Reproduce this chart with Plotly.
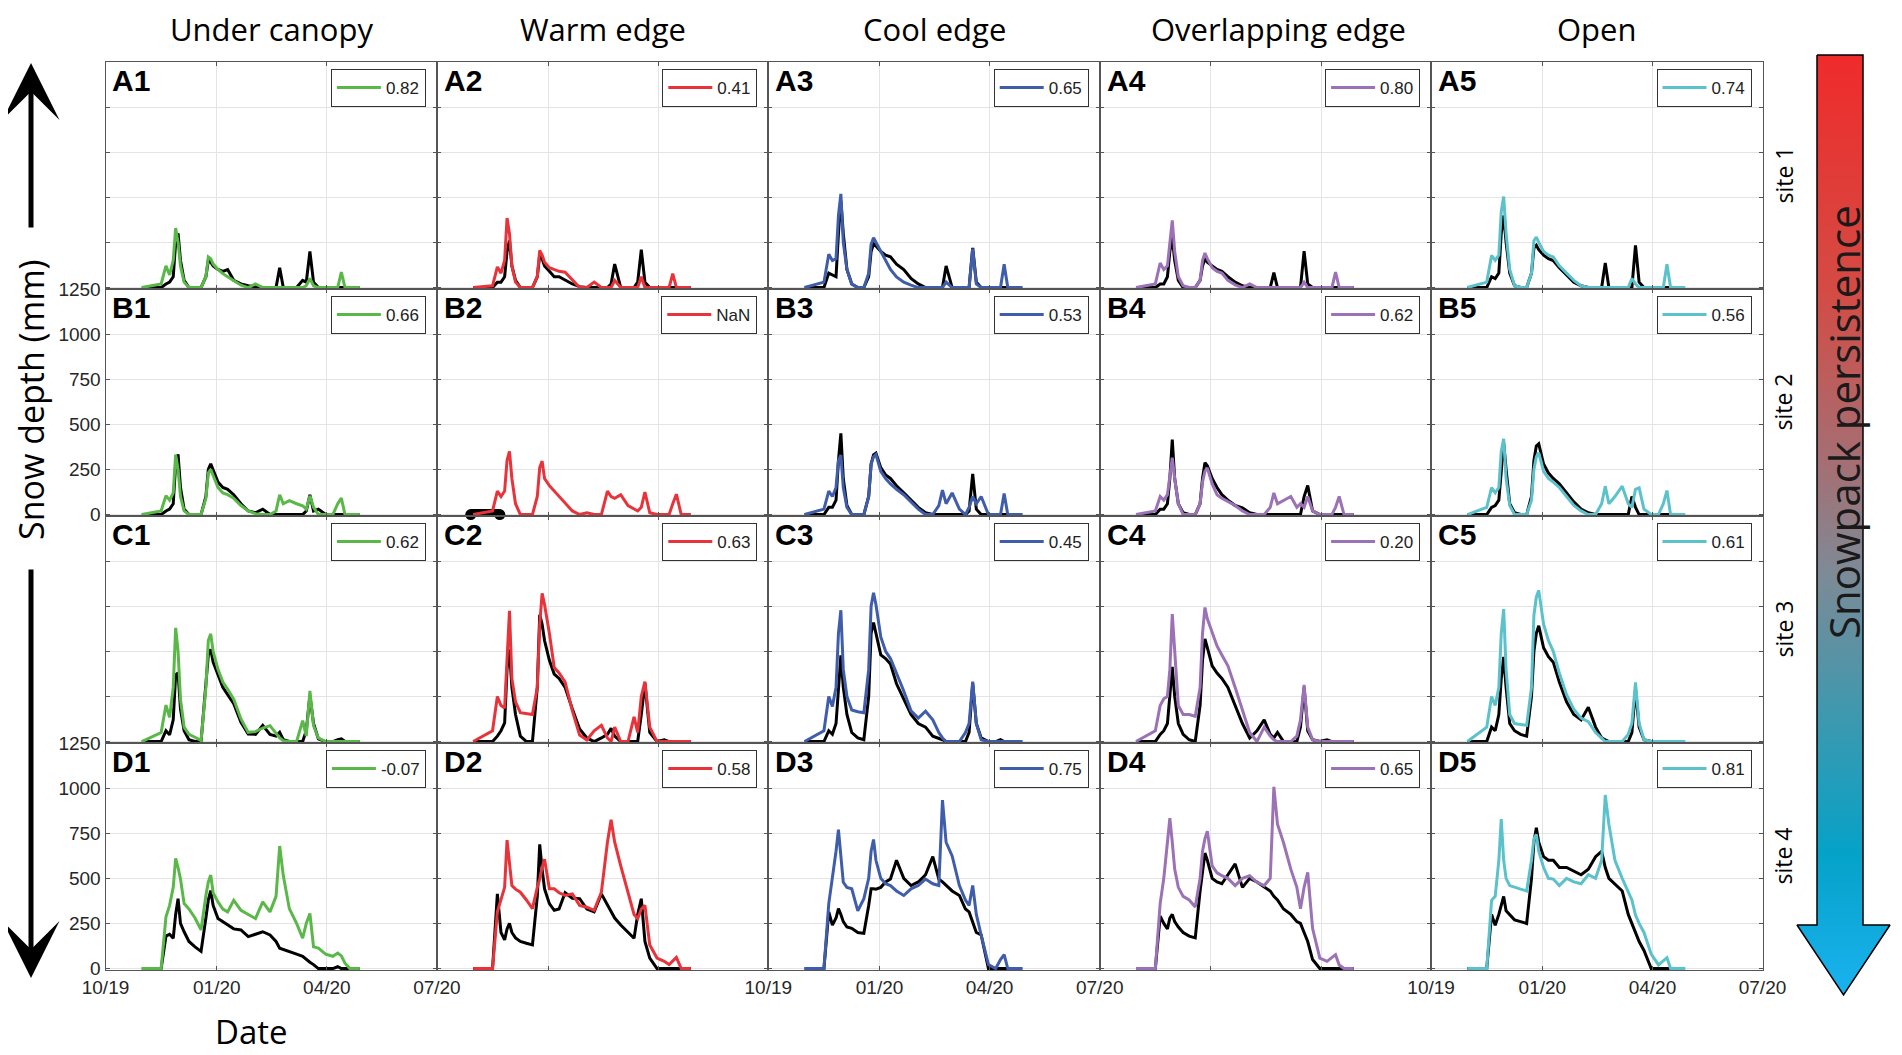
import pandas as pd
import plotly.graph_objects as go

# sample days, counted from 1 Oct 2019
day_offset = [30, 46, 50, 53, 56, 58, 60, 62, 65, 69,
              74, 79, 83, 85, 87, 89, 93, 97, 101, 106,
              112, 118, 124, 130, 136, 141, 144, 147, 152, 158,
              163, 166, 169, 172, 176, 182, 188, 192, 195, 198,
              202, 210]

column_titles = ["Under canopy", "Warm edge", "Cool edge", "Overlapping edge", "Open"]
row_letters = ["A", "B", "C", "D"]
site_labels = ["site 1", "site 2", "site 3", "site 4"]
line_colors = ["#59b848", "#e8333a", "#3f5daa", "#9b72b5", "#5bc2cc"]
tick_dates = ["2019-10-01", "2020-01-01", "2020-04-01", "2020-07-01"]
tick_labels = ["10/19", "01/20", "04/20", "07/20"]
depth_ticks = [0, 250, 500, 750, 1000, 1250]

# correlation shown in each legend
r_A = ["0.82", "0.41", "0.65", "0.80", "0.74"]
r_B = ["0.66", "NaN", "0.53", "0.62", "0.56"]
r_C = ["0.62", "0.63", "0.45", "0.20", "0.61"]
r_D = ["-0.07", "0.58", "0.75", "0.65", "0.81"]

# observed snow depth (mm), black lines
obs_A = [
    [0, 0, 20, 30, 60, 250, 300, 150, 40, 0, 0, 0, 60, 150, 140, 120, 100, 90, 100, 40,
     20, 10, 5, 0, 0, 0, 110, 0, 0, 0, 40, 30, 200, 30, 0, 0, 0, 0, 0, 0, 0, 0],
    [0, 0, 30, 30, 60, 200, 260, 120, 40, 0, 0, 0, 60, 180, 160, 120, 90, 60, 60, 40,
     20, 5, 0, 0, 0, 0, 20, 130, 0, 0, 0, 30, 210, 30, 0, 0, 0, 0, 0, 0, 0, 0],
    [0, 0, 80, 70, 60, 300, 482, 300, 100, 20, 0, 0, 60, 200, 243, 230, 200, 180, 170, 130,
     100, 50, 20, 0, 0, 0, 0, 120, 0, 0, 0, 0, 220, 30, 0, 0, 0, 0, 0, 0, 0, 0],
    [0, 0, 20, 20, 60, 200, 280, 150, 40, 0, 0, 0, 40, 120, 160, 140, 120, 100, 90, 60,
     30, 10, 0, 0, 0, 0, 83, 0, 0, 0, 0, 0, 202, 20, 0, 0, 0, 0, 0, 0, 0, 0],
    [0, 0, 60, 50, 80, 300, 399, 250, 80, 10, 0, 0, 80, 220, 234, 210, 180, 160, 150, 110,
     70, 30, 10, 0, 0, 0, 136, 0, 0, 0, 0, 0, 234, 30, 0, 0, 0, 0, 0, 0, 0, 0],
]
obs_B = [
    [0, 0, 20, 30, 60, 280, 333, 150, 30, 0, 0, 0, 100, 250, 281, 250, 180, 150, 140, 110,
     60, 20, 10, 30, 0, 0, 0, 0, 0, 0, 0, 20, 110, 20, 30, 0, 0, 0, 0, 0, 0, 0],
    [None] * len(day_offset),
    [0, 0, 40, 40, 80, 300, 450, 200, 50, 0, 0, 0, 100, 280, 330, 340, 260, 220, 200, 160,
     120, 80, 40, 10, 0, 0, 0, 0, 0, 0, 0, 20, 226, 30, 0, 0, 0, 0, 0, 0, 0, 0],
    [0, 0, 30, 30, 60, 200, 416, 200, 60, 10, 0, 0, 60, 200, 287, 270, 200, 150, 110, 80,
     50, 37, 10, 0, 0, 0, 0, 0, 0, 0, 0, 0, 100, 161, 20, 0, 0, 0, 0, 0, 0, 0],
    [0, 0, 40, 50, 80, 250, 398, 250, 60, 10, 0, 0, 100, 300, 380, 392, 280, 230, 200, 170,
     120, 70, 30, 10, 0, 0, 0, 0, 0, 0, 0, 100, 40, 0, 0, 0, 0, 0, 0, 0, 0, 0],
]
obs_C = [
    [0, 0, 60, 37, 120, 370, 380, 180, 60, 10, 0, 0, 320, 480, 511, 440, 370, 300, 260, 210,
     107, 42, 40, 90, 40, 30, 51, 10, 0, 0, 0, 60, 254, 100, 15, 0, 0, 10, 15, 0, 0, 0],
    [0, 0, 30, 60, 104, 400, 511, 300, 150, 30, 0, 0, 300, 703, 650, 560, 450, 374, 350, 300,
     180, 70, 20, 0, 20, 40, 73, 30, 0, 0, 0, 0, 150, 323, 50, 0, 10, 0, 0, 0, 0, 0],
    [0, 0, 60, 40, 100, 300, 478, 300, 150, 50, 20, 10, 250, 600, 660, 600, 480, 460, 430, 320,
     230, 150, 100, 80, 30, 20, 10, 0, 0, 0, 0, 50, 323, 100, 20, 0, 0, 10, 0, 0, 0, 0],
    [0, 0, 40, 60, 100, 250, 414, 250, 100, 40, 10, 0, 200, 450, 569, 520, 420, 380, 350, 300,
     200, 100, 20, 60, 120, 40, 20, 50, 0, 0, 0, 80, 300, 60, 10, 0, 10, 0, 0, 0, 0, 0],
    [0, 0, 80, 60, 150, 350, 469, 300, 100, 60, 40, 30, 250, 500, 600, 642, 520, 470, 440, 330,
     220, 150, 120, 190, 80, 20, 10, 0, 0, 0, 0, 50, 290, 80, 10, 0, 0, 0, 0, 0, 0, 0],
]
obs_D = [
    [0, 0, 180, 190, 168, 300, 387, 250, 204, 150, 120, 95, 280, 380, 432, 350, 277, 260, 241, 220,
     214, 177, 190, 204, 186, 150, 113, 105, 95, 80, 68, 50, 35, 22, 0, 0, 0, 10, 0, 0, 0, 0],
    [0, 0, 414, 200, 159, 220, 250, 200, 170, 150, 140, 131, 400, 688, 550, 442, 360, 323, 330, 420,
     390, 387, 330, 314, 414, 350, 314, 280, 241, 200, 168, 300, 387, 150, 58, 0, 0, 0, 0, 0, 0, 0],
    [0, 0, 314, 241, 280, 332, 300, 260, 230, 223, 200, 195, 350, 442, 442, 440, 450, 480, 496, 600,
     500, 460, 480, 520, 620, 496, 480, 460, 430, 405, 330, 314, 260, 200, 186, 0, 0, 0, 0, 0, 0, 0],
    [0, 0, 290, 250, 220, 280, 300, 260, 230, 200, 180, 170, 430, 550, 640, 600, 500, 480, 470, 520,
     580, 450, 500, 480, 450, 430, 400, 380, 330, 300, 260, 250, 200, 150, 50, 0, 0, 0, 0, 0, 0, 0],
    [0, 0, 300, 240, 300, 350, 400, 320, 300, 270, 260, 250, 500, 700, 780, 700, 620, 600, 600, 560,
     560, 540, 520, 550, 620, 650, 560, 500, 470, 430, 300, 250, 200, 150, 100, 0, 0, 0, 0, 0, 0, 0],
]

# modelled snow depth (mm), coloured lines
mod_A = [
    [0, 20, 120, 70, 150, 330, 250, 120, 30, 0, 0, 0, 60, 170, 160, 130, 100, 77, 60, 40,
     13, 0, 20, 0, 0, 0, 0, 0, 0, 0, 0, 10, 50, 10, 0, 0, 0, 0, 86, 0, 0, 0],
    [0, 10, 114, 80, 150, 385, 300, 120, 30, 0, 0, 0, 60, 206, 180, 140, 110, 100, 90, 85,
     40, 0, 0, 30, 0, 0, 0, 40, 0, 0, 0, 0, 60, 0, 0, 0, 0, 0, 77, 0, 0, 0],
    [0, 30, 184, 150, 160, 400, 519, 250, 100, 20, 0, 0, 80, 240, 276, 250, 200, 150, 100, 59,
     30, 13, 0, 0, 0, 0, 0, 30, 0, 0, 0, 0, 215, 20, 0, 0, 0, 0, 129, 0, 0, 0],
    [0, 20, 136, 100, 120, 250, 372, 200, 60, 10, 0, 0, 40, 150, 191, 160, 110, 90, 80, 40,
     15, 0, 20, 0, 0, 0, 0, 0, 0, 0, 0, 0, 30, 0, 0, 0, 0, 0, 86, 0, 0, 0],
    [0, 30, 178, 150, 180, 420, 504, 300, 100, 10, 0, 0, 80, 260, 280, 250, 200, 180, 170, 120,
     80, 40, 10, 0, 0, 0, 0, 0, 0, 0, 0, 50, 20, 0, 0, 0, 0, 0, 129, 0, 0, 0],
]
mod_B = [
    [0, 20, 105, 80, 120, 333, 250, 100, 20, 0, 0, 0, 90, 230, 250, 220, 150, 120, 110, 90,
     50, 20, 5, 0, 0, 20, 110, 60, 77, 60, 49, 30, 104, 40, 0, 0, 0, 60, 91, 0, 0, 0],
    [0, 20, 130, 100, 130, 300, 350, 200, 60, 0, 0, 0, 100, 260, 296, 200, 160, 131, 100, 60,
     20, 0, 10, 0, 0, 130, 100, 90, 110, 50, 30, 20, 40, 124, 10, 0, 0, 0, 60, 113, 0, 0],
    [0, 30, 130, 100, 150, 300, 330, 150, 40, 0, 0, 0, 100, 280, 320, 333, 240, 200, 170, 140,
     110, 70, 30, 0, 0, 50, 135, 60, 120, 30, 0, 40, 100, 60, 100, 0, 0, 0, 117, 0, 0, 0],
    [0, 20, 100, 80, 110, 200, 315, 200, 60, 0, 0, 0, 60, 180, 240, 259, 170, 110, 90, 70,
     50, 20, 0, 0, 0, 40, 120, 60, 80, 100, 40, 60, 40, 100, 20, 0, 0, 0, 40, 100, 0, 0],
    [0, 40, 150, 120, 150, 350, 420, 200, 50, 0, 0, 0, 80, 250, 320, 342, 240, 200, 180, 150,
     100, 50, 20, 0, 0, 60, 157, 60, 100, 157, 60, 40, 140, 148, 30, 0, 0, 60, 133, 0, 0, 0],
]
mod_C = [
    [0, 50, 202, 134, 300, 630, 500, 235, 80, 40, 24, 5, 300, 560, 597, 500, 400, 330, 290, 235,
     125, 51, 55, 75, 88, 42, 20, 5, 0, 0, 116, 30, 281, 88, 20, 0, 0, 0, 0, 0, 0, 0],
    [0, 60, 250, 200, 186, 500, 724, 350, 220, 160, 155, 150, 300, 650, 821, 760, 600, 410, 380, 330,
     170, 36, 9, 60, 90, 20, 0, 80, 0, 0, 137, 50, 250, 332, 80, 0, 0, 0, 0, 0, 0, 0],
    [0, 60, 250, 195, 300, 600, 728, 400, 250, 175, 165, 160, 400, 750, 825, 760, 580, 500, 460, 380,
     280, 170, 130, 168, 120, 50, 20, 0, 0, 0, 50, 100, 332, 100, 10, 0, 0, 0, 0, 0, 0, 0],
    [0, 60, 200, 237, 250, 400, 706, 500, 200, 150, 150, 140, 300, 600, 743, 680, 600, 530, 480, 420,
     300, 180, 50, 0, 80, 30, 10, 0, 0, 0, 30, 120, 314, 80, 10, 0, 0, 0, 0, 0, 0, 0],
    [0, 80, 250, 200, 300, 600, 734, 400, 150, 100, 95, 90, 300, 700, 800, 838, 650, 560, 500, 380,
     260, 180, 130, 110, 50, 20, 0, 0, 0, 0, 40, 100, 328, 100, 10, 0, 0, 0, 0, 0, 0, 0],
]
mod_D = [
    [0, 0, 287, 350, 450, 610, 560, 496, 360, 330, 280, 214, 405, 480, 518, 420, 369, 330, 314, 378,
     323, 300, 277, 369, 314, 400, 679, 515, 332, 250, 168, 250, 305, 120, 113, 80, 68, 86, 70, 30, 0, 0],
    [0, 0, 314, 380, 450, 712, 600, 460, 440, 423, 380, 332, 450, 496, 560, 606, 442, 442, 420, 405,
     414, 350, 340, 323, 423, 700, 825, 700, 569, 423, 300, 277, 330, 350, 131, 58, 40, 22, 40, 62, 0, 0],
    [0, 0, 360, 500, 650, 770, 600, 478, 450, 442, 320, 387, 500, 650, 715, 600, 500, 470, 460, 430,
     405, 442, 460, 496, 470, 460, 934, 700, 624, 460, 380, 350, 460, 300, 186, 22, 0, 50, 77, 0, 0, 0],
    [0, 0, 360, 500, 700, 834, 700, 551, 450, 400, 380, 341, 500, 650, 720, 761, 569, 530, 515, 500,
     460, 500, 515, 478, 460, 500, 1007, 800, 697, 551, 450, 332, 450, 533, 223, 58, 40, 60, 77, 20, 0, 0],
    [0, 0, 378, 400, 600, 828, 600, 500, 460, 450, 440, 430, 600, 720, 743, 650, 560, 500, 496, 460,
     500, 480, 470, 520, 500, 600, 962, 800, 600, 500, 420, 380, 296, 250, 200, 80, 20, 40, 60, 0, 0, 0],
]

# B2: sensor stub with no usable record
b2_stub_days = [28, 52]
b2_stub_depth = [0, 0]

obs_rows = [obs_A, obs_B, obs_C, obs_D]
mod_rows = [mod_A, mod_B, mod_C, mod_D]
r_rows = [r_A, r_B, r_C, r_D]

start = pd.Timestamp("2019-10-01")
dates = start + pd.to_timedelta(day_offset, unit="D")

# page geometry in screen pixels; the page body adds an 8 px margin
W, H = 1902, 1055
PAGE_PAD = 8
px_left, px_right = 105.5, 1762.5
px_top, px_bottom = 62, 970
col_w = (px_right - px_left) / 5
row_h = (px_bottom - px_top) / 4

TICK_FONT = dict(family="Liberation Sans", size=19, color="#262626")
LABEL_FONT = "Open Sans"


def fx(p):
    return (p - PAGE_PAD) / W


def fy(p):
    return 1 - (p - PAGE_PAD) / H


def xdom(c):
    return [fx(px_left + c * col_w), fx(px_left + (c + 1) * col_w)]


def ydom(r):
    top = px_top + r * row_h
    return [fy(top + row_h), fy(top)]


fig = go.Figure()
layout = {}
annotations = []

for r in range(4):
    for c in range(5):
        k = r * 5 + c + 1
        sfx = "" if k == 1 else str(k)
        xa, ya = "x" + sfx, "y" + sfx
        leg = "legend" + sfx

        if r == 1 and c == 1:
            fig.add_trace(go.Scatter(
                x=start + pd.to_timedelta(b2_stub_days, unit="D"), y=b2_stub_depth,
                mode="lines+markers", line=dict(color="black", width=11),
                marker=dict(color="black", size=11), cliponaxis=False,
                xaxis=xa, yaxis=ya, showlegend=False, hoverinfo="skip"))

        fig.add_trace(go.Scatter(
            x=dates, y=obs_rows[r][c], mode="lines",
            line=dict(color="black", width=3),
            xaxis=xa, yaxis=ya, showlegend=False))
        fig.add_trace(go.Scatter(
            x=dates, y=mod_rows[r][c], mode="lines",
            line=dict(color=line_colors[c], width=3),
            name=r_rows[r][c], legend=leg, xaxis=xa, yaxis=ya))

        layout["xaxis" + sfx] = dict(
            domain=xdom(c), anchor=ya, type="date",
            range=["2019-10-01", "2020-07-01"],
            tickvals=tick_dates, ticktext=tick_labels,
            showticklabels=(r == 3 and c % 2 == 0), tickfont=TICK_FONT,
            showgrid=True, gridcolor="#e4e4e4", gridwidth=1,
            showline=True, linecolor="#555555", linewidth=1, mirror="ticks",
            ticks="inside", ticklen=4, tickcolor="#555555", zeroline=False)
        layout["yaxis" + sfx] = dict(
            domain=ydom(r), anchor=xa, range=[-8, 1250],
            tickvals=depth_ticks,
            showticklabels=(c == 0 and r % 2 == 1), tickfont=TICK_FONT,
            showgrid=True, gridcolor="#e4e4e4", gridwidth=1,
            showline=True, linecolor="#555555", linewidth=1, mirror="ticks",
            ticks="inside", ticklen=4, tickcolor="#555555", zeroline=False)
        layout[leg] = dict(
            x=fx(px_left + (c + 1) * col_w - 11),
            y=fy(px_top + r * row_h + 7),
            xanchor="right", yanchor="top",
            bgcolor="white", bordercolor="#333333", borderwidth=1,
            font=dict(family="Liberation Sans", size=17, color="#222222"),
            itemwidth=44)

        annotations.append(dict(
            text="<b>%s%d</b>" % (row_letters[r], c + 1),
            xref=xa + " domain", yref=ya + " domain", x=0.015, y=1.0,
            xanchor="left", yanchor="top", showarrow=False,
            font=dict(family="Liberation Sans", size=30, color="black")))

# column titles
for c, title in enumerate(column_titles):
    cx = (xdom(c)[0] + xdom(c)[1]) / 2 + (0.007 if c == 3 else 0)
    annotations.append(dict(
        text=title, xref="paper", yref="paper", x=cx, y=fy(29),
        xanchor="center", yanchor="middle", showarrow=False,
        font=dict(family=LABEL_FONT, size=31, color="black")))

# site labels
for r, site in enumerate(site_labels):
    annotations.append(dict(
        text=site, xref="paper", yref="paper", x=fx(1783), y=sum(ydom(r)) / 2,
        xanchor="center", yanchor="middle", textangle=-90, showarrow=False,
        font=dict(family=LABEL_FONT, size=23, color="black")))

annotations += [
    dict(text="Snow depth (mm)", xref="paper", yref="paper", x=fx(31), y=fy(400),
         xanchor="center", yanchor="middle", textangle=-90, showarrow=False,
         font=dict(family=LABEL_FONT, size=34, color="black")),
    dict(text="Date", xref="paper", yref="paper", x=fx(251), y=fy(1031),
         xanchor="center", yanchor="middle", showarrow=False,
         font=dict(family=LABEL_FONT, size=33, color="black")),
    dict(text="Snowpack persistence", xref="paper", yref="paper", x=fx(1843), y=fy(422),
         xanchor="center", yanchor="middle", textangle=-90, showarrow=False,
         font=dict(family=LABEL_FONT, size=42, color="#1a1a1a")),
    # vertical arrows beside the depth label
    dict(text="", xref="paper", yref="paper", x=fx(31), y=fy(63),
         ax=0, ay=166, showarrow=True, arrowhead=3, arrowsize=1.9, arrowwidth=5,
         arrowcolor="black"),
    dict(text="", xref="paper", yref="paper", x=fx(31), y=fy(978),
         ax=0, ay=-410, showarrow=True, arrowhead=3, arrowsize=1.9, arrowwidth=5,
         arrowcolor="black"),
]

# gradient arrow on the right, drawn on its own hidden axes in page pixels
arrow_x = [1817, 1863, 1863, 1890, 1843.5, 1797, 1817, 1817]
arrow_y = [55, 55, 925, 925, 995, 925, 925, 55]
fig.add_trace(go.Scatter(
    x=arrow_x, y=arrow_y, mode="lines", fill="toself",
    line=dict(color="black", width=1.5),
    fillgradient=dict(
        type="vertical", start=55, stop=995,
        colorscale=[[0, "#ef2b2b"], [0.25, "#d44b44"], [0.45, "#a07278"],
                    [0.55, "#7e8a96"], [0.7, "#3f98ae"], [0.85, "#05a2c8"],
                    [1, "#1ab2f0"]]),
    xaxis="x21", yaxis="y21", showlegend=False, hoverinfo="skip"))
layout["xaxis21"] = dict(domain=[fx(1790), fx(1900)], range=[1790, 1900],
                         visible=False, anchor="y21")
layout["yaxis21"] = dict(domain=[fy(1005), fy(45)], range=[1005, 45],
                         visible=False, anchor="x21")

fig.update_layout(
    width=W, height=H,
    margin=dict(l=0, r=0, t=0, b=0, autoexpand=False),
    paper_bgcolor="white", plot_bgcolor="white",
    annotations=annotations,
    **layout,
)

fig.write_html("out.html")
